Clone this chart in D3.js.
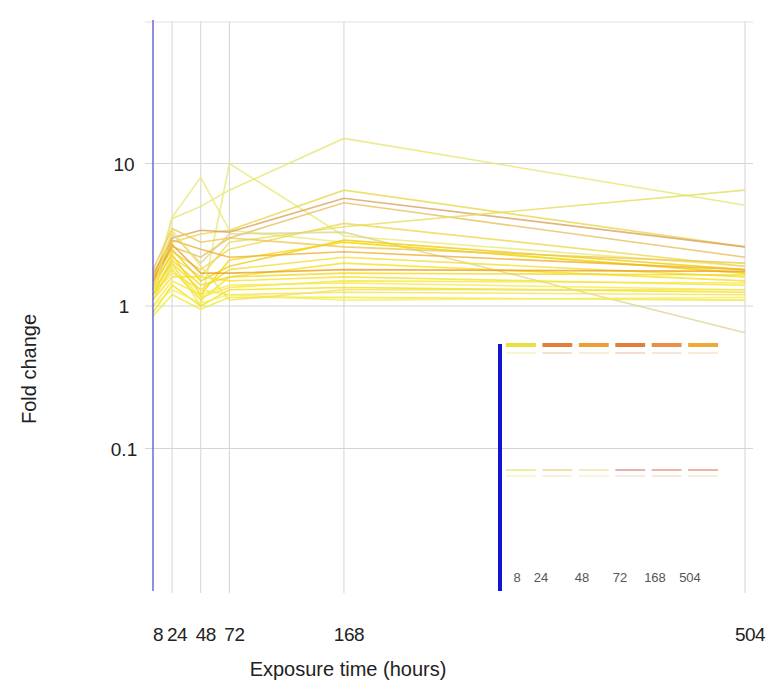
<!DOCTYPE html>
<html><head><meta charset="utf-8">
<script src="https://cdn.jsdelivr.net/npm/d3@7"></script>
<style>body{margin:0;background:#fff}svg{display:block}text{font-family:"Liberation Sans",Arial,sans-serif}</style>
</head><body>
<script>
const times = [8, 24, 48, 72, 168, 504];
const yTicks = [10, 1, 0.1];
const yTickLabels = ["10", "1", "0.1"];
const seriesValues = [
  [1.3, 4.1, 5.0, 6.5, 15.0, 5.1],
  [1.1, 2.0, 1.0, 10.0, 3.1, 1.9],
  [1.4, 4.2, 8.0, 3.4, 2.8, 1.7],
  [1.5, 2.8, 3.2, 3.4, 6.5, 2.6],
  [1.6, 3.0, 3.4, 3.3, 5.7, 2.6],
  [1.4, 2.6, 2.2, 3.0, 5.3, 2.2],
  [1.2, 2.2, 1.6, 2.8, 3.6, 6.5],
  [1.3, 2.4, 1.8, 2.5, 3.8, 1.9],
  [1.5, 3.2, 2.0, 3.2, 3.3, 0.65],
  [1.6, 2.5, 1.5, 1.9, 2.9, 1.8],
  [1.4, 2.3, 1.2, 2.1, 2.8, 1.7],
  [1.7, 2.9, 2.5, 2.2, 2.4, 1.8],
  [1.3, 2.0, 1.3, 1.8, 2.2, 1.6],
  [1.2, 1.8, 1.1, 1.6, 2.0, 1.5],
  [1.5, 2.7, 1.7, 1.7, 1.8, 1.75],
  [1.1, 1.6, 1.6, 1.5, 1.6, 1.4],
  [1.0, 1.5, 1.2, 1.4, 1.45, 1.3],
  [0.9, 1.4, 1.0, 1.3, 1.35, 1.25],
  [1.2, 1.7, 1.3, 1.2, 1.25, 1.2],
  [0.85, 1.2, 0.95, 1.15, 1.15, 1.1],
  [1.0, 1.3, 1.05, 1.2, 1.1, 1.15],
  [1.8, 3.5, 2.8, 3.0, 2.6, 2.0],
  [1.3, 3.4, 1.9, 1.1, 1.3, 1.3],
  [1.2, 2.1, 1.4, 1.6, 1.7, 1.65],
  [1.1, 1.9, 1.15, 1.35, 1.5, 1.45]
];
const seriesColors = [
  "#e6e670", "#e8e878", "#eaea80", "#e8d850", "#dca060", "#e6c060",
  "#e4de60", "#eed850", "#dcd490", "#f2cc10", "#f6d800", "#eeb030",
  "#f2de30", "#f4e220", "#eca020", "#f6e230", "#f8ea40", "#f2e210",
  "#f6e250", "#eeea30", "#f8ee60", "#eec850", "#f0e260", "#f4d820", "#f6e640"
];
const insetLabels = ["8", "24", "48", "72", "168", "504"];
const insetRowTop = ["#e6e040", "#e08038", "#eea038", "#e08038", "#e89048", "#eeaa38"];
const insetRowTopFaint = ["#f4f0c0", "#f0d8c0", "#f4e8c8", "#f0d0c0", "#f0e0d0", "#f4e4c8"];
const insetRowLow = ["#eeeea0", "#f2e2a8", "#f4eac0", "#e4b0b0", "#eeb4a8", "#eeb4a0"];
const insetRowLowFaint = ["#f6f2c8", "#f6ecd0", "#f6f0d8", "#f6e0d8", "#f6e0d0", "#f6e4d0"];

const W = 781, H = 694;
const svg = d3.select("body").append("svg").attr("width", W).attr("height", H);
const x = d3.scaleLinear().domain([8, 504]).range([153, 745]);
const y = d3.scaleLog().domain([0.01, 100]).range([591, 21]);

// grid
const grid = svg.append("g").attr("stroke", "#d4d4d8").attr("stroke-width", 1).attr("fill", "none");
grid.selectAll("line.v").data(times.slice(1)).join("line")
  .attr("x1", d => x(d)).attr("x2", d => x(d)).attr("y1", 21).attr("y2", 593);
grid.selectAll("line.h").data(yTicks).join("line")
  .attr("x1", 145).attr("x2", 753).attr("y1", d => y(d)).attr("y2", d => y(d));
grid.append("line").attr("x1", 145).attr("x2", 753).attr("y1", 22).attr("y2", 22).attr("stroke", "#e2e2e6");

// lines
const line = d3.line().x((d, i) => x(times[i])).y(d => y(d));
svg.append("g").selectAll("path").data(seriesValues).join("path")
  .attr("d", line).attr("fill", "none")
  .attr("stroke", (d, i) => seriesColors[i % seriesColors.length])
  .attr("stroke-width", 1.6).attr("stroke-opacity", 0.8);

// y axis line
svg.append("line").attr("x1", x(8)).attr("x2", x(8)).attr("y1", 20).attr("y2", 591)
  .attr("stroke", "#6a6ad0").attr("stroke-width", 1.5);

// y tick labels
svg.append("g").selectAll("text").data(yTicks).join("text")
  .attr("x", 124).attr("y", d => y(d) + 7).attr("text-anchor", "middle")
  .attr("font-size", 19).attr("fill", "#222").text((d, i) => yTickLabels[i]);

// x tick labels
svg.append("g").selectAll("text").data(times).join("text")
  .attr("x", d => x(d) + 5).attr("y", 641).attr("text-anchor", "middle")
  .attr("font-size", 19).attr("fill", "#222").attr("letter-spacing", -0.5)
  .text(d => d);

svg.append("text").attr("x", 348).attr("y", 676).attr("text-anchor", "middle")
  .attr("font-size", 20).attr("fill", "#222").text("Exposure time (hours)");
svg.append("text").attr("transform", "translate(36,369) rotate(-90)").attr("text-anchor", "middle")
  .attr("font-size", 20).attr("fill", "#222").text("Fold change");

// inset
const inset = svg.append("g");
const bx = d3.scaleBand().domain(insetLabels).range([506, 718]).paddingInner(0.18);
function row(colors, yy, w) {
  inset.append("g").selectAll("line").data(insetLabels).join("line")
    .attr("x1", d => bx(d)).attr("x2", d => bx(d) + bx.bandwidth())
    .attr("y1", yy).attr("y2", yy).attr("stroke", (d, i) => colors[i]).attr("stroke-width", w);
}
row(insetRowTop, 345, 4);
row(insetRowTopFaint, 353, 1.5);
row(insetRowLow, 470, 2);
row(insetRowLowFaint, 476, 1.5);
inset.append("line").attr("x1", 500).attr("x2", 500).attr("y1", 344).attr("y2", 591)
  .attr("stroke", "#1414d0").attr("stroke-width", 4);
const labPos = [517, 541, 582, 620, 655, 690];
inset.selectAll("text").data(insetLabels).join("text")
  .attr("x", (d, i) => labPos[i]).attr("y", 582).attr("text-anchor", "middle")
  .attr("font-size", 13).attr("fill", "#555").text(d => d);
</script>
</body></html>
